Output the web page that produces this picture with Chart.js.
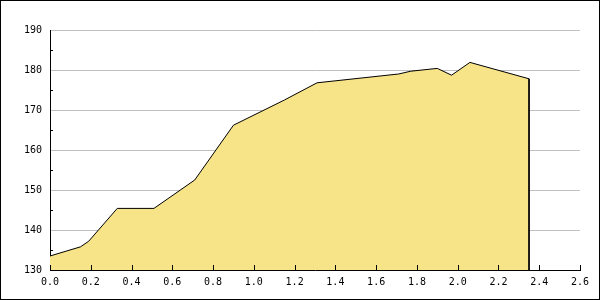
<!DOCTYPE html>
<html>
<head>
<meta charset="utf-8">
<script src="https://cdn.jsdelivr.net/npm/chart.js@4.4.1/dist/chart.umd.min.js"></script>
<style>
  html, body { margin: 0; padding: 0; background: #fff; }
  canvas { display: block; }
</style>
</head>
<body>
<canvas id="areaChart" width="600" height="300"></canvas>
<script>
// values
const xValues = [0, 0.15, 0.19, 0.33, 0.51, 0.71, 0.90, 1.15, 1.31, 1.71, 1.77, 1.90, 1.97, 2.06, 2.35, 2.35];
const yValues = [133.5, 135.8, 137.2, 145.4, 145.4, 152.5, 166.2, 172.5, 176.8, 179.0, 179.7, 180.4, 178.7, 181.9, 177.8, 130];
const xTicks = [0, 0.2, 0.4, 0.6, 0.8, 1.0, 1.2, 1.4, 1.6, 1.8, 2.0, 2.2, 2.4, 2.6];
const yTicks = [130, 140, 150, 160, 170, 180, 190];

const points = xValues.map((x, i) => ({ x: x, y: yValues[i] }));

// inner tick marks + frame round the picture
const tickMarks = {
  id: "tickMarks",
  afterDraw(chart) {
    const ctx = chart.ctx;
    const xs = chart.scales.x;
    const ys = chart.scales.y;
    ctx.save();
    ctx.strokeStyle = "#000";
    ctx.lineWidth = 1;
    ctx.beginPath();
    xTicks.forEach((v) => {
      const px = Math.round(xs.getPixelForValue(v)) + 0.5;
      ctx.moveTo(px, ys.bottom);
      ctx.lineTo(px, ys.bottom - 5);
    });
    for (let i = 0; i < yTicks.length - 1; i++) {
      const mid = (yTicks[i] + yTicks[i + 1]) / 2;
      const py = Math.round(ys.getPixelForValue(mid)) + 0.5;
      ctx.moveTo(xs.left, py);
      ctx.lineTo(xs.left + 3, py);
    }
    ctx.stroke();
    ctx.strokeRect(0.5, 0.5, chart.width - 1, chart.height - 1);
    ctx.restore();
  },
};

const ctx = document.getElementById("areaChart");
new Chart(ctx, {
  type: "line",
  data: {
    datasets: [
      {
        data: points,
        borderColor: "#000",
        borderWidth: 1,
        backgroundColor: "#f7e388",
        fill: "start",
        pointRadius: 0,
        tension: 0,
      },
    ],
  },
  options: {
    responsive: false,
    animation: false,
    events: [],
    layout: { padding: { top: 30, right: 20, left: 0, bottom: 0 } },
    plugins: { legend: { display: false }, tooltip: { enabled: false } },
    scales: {
      x: {
        type: "linear",
        min: 0,
        max: 2.6,
        afterBuildTicks: (scale) => {
          scale.ticks = xTicks.map((v) => ({ value: v }));
        },
        afterFit: (scale) => {
          scale.height = 30;
        },
        grid: { display: false, drawTicks: false },
        border: { display: true, color: "#000", width: 1 },
        ticks: {
          padding: 6,
          color: "#000",
          font: { family: "DejaVu Sans Mono", size: 10 },
          maxRotation: 0,
          callback: (v) => Number(v).toFixed(1),
        },
      },
      y: {
        min: 130,
        max: 190,
        afterBuildTicks: (scale) => {
          scale.ticks = yTicks.map((v) => ({ value: v }));
        },
        afterFit: (scale) => {
          scale.width = 50;
        },
        grid: { color: "#c0c0c0", drawTicks: false },
        border: { display: true, color: "#000", width: 1 },
        ticks: {
          padding: 8,
          color: "#000",
          font: { family: "DejaVu Sans Mono", size: 10 },
        },
      },
    },
  },
  plugins: [tickMarks],
});
</script>
</body>
</html>
